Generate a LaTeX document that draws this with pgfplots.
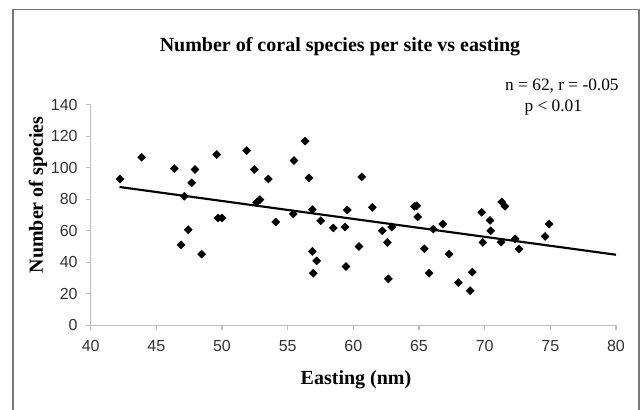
\documentclass[border=0pt]{standalone}
\usepackage{fontspec}
\setmainfont{Liberation Serif}
\setsansfont{Liberation Sans}
\usepackage{pgfplots}
\pgfplotsset{compat=1.18}

\definecolor{axisgray}{RGB}{190,190,190}
\definecolor{framegray}{RGB}{120,120,120}

\begin{document}
\begin{tikzpicture}
\begin{axis}[
scale only axis,
width=394pt, height=165.4pt,
xmin=40, xmax=80,
ymin=0, ymax=140,
xtick={40,45,...,80},
ytick={0,20,...,140},
axis lines*=left,
axis line style={axisgray, line width=0.8pt},
tick align=outside,
major tick length=3.75pt,
tick style={axisgray, line width=0.8pt},
/pgf/number format/assume math mode=true,
ticklabel style={font=\sffamily\fontsize{12}{14}\selectfont, text=black!80},
xticklabel style={yshift=-4pt},
yticklabel style={xshift=-2.5pt},
clip=false,
]

% species count per site against easting
\addplot [only marks, mark=square*, mark size=2.1pt,
  mark options={rotate=45, fill=black, draw=black}]
coordinates{
(42.23,93.0) (43.88,106.8) (46.37,99.6) (47.94,99.0) (47.69,90.5)
(47.13,82.0) (49.60,108.5) (51.88,111.0) (52.46,99.0) (53.53,93.0)
(52.89,79.9) (52.64,78.1) (49.70,68.2) (50.00,68.2) (54.09,65.7)
(47.43,60.8) (46.88,51.2) (48.45,45.3)
(56.32,117.0) (55.48,104.7) (56.62,93.7) (60.64,94.3) (55.43,70.8)
(56.88,73.5) (57.52,66.5) (58.48,61.9) (59.37,62.5) (59.54,73.3)
(61.45,75.0) (62.21,60.1) (62.92,62.5) (62.59,52.7) (60.43,50.1)
(56.88,47.0) (57.21,41.0) (56.95,33.2) (59.44,37.4) (62.67,29.6)
(64.65,75.6) (64.83,76.0) (64.90,68.9) (66.09,61.2) (66.81,64.4)
(65.41,48.7) (65.77,33.2) (67.29,45.3)
(69.06,33.9) (68.00,27.2) (68.89,22.1) (69.78,71.8) (70.41,66.7)
(70.46,60.1) (69.86,52.7) (71.25,52.9) (71.30,78.4) (71.55,75.6)
(72.32,55.0) (72.62,48.5) (74.60,56.5) (74.91,64.4)
};

% linear trend
\addplot [black, line width=1.6pt] coordinates{
(42.2,87.9) (80,44.9)
};

\end{axis}

\node[font=\bfseries\fontsize{15}{18}\selectfont] at (187pt,208.9pt)
  {Number of coral species per site vs easting};
\node[font=\bfseries\fontsize{15}{18}\selectfont, rotate=90] at (-39.5pt,97.9pt)
  {Number of species};
\node[font=\bfseries\fontsize{15}{18}\selectfont] at (199pt,-40.9pt)
  {Easting (nm)};
\node[font=\fontsize{13}{15}\selectfont, anchor=base east, inner sep=0pt] at (396.2pt,176.1pt)
  {n = 62, r = -0.05};
\node[font=\fontsize{13}{15}\selectfont, anchor=base west, inner sep=0pt] at (325.2pt,160.4pt)
  {p < 0.01};

\draw[framegray, line width=1.1pt] (-58.3pt,-80pt) -- (-58.3pt,237pt)
  -- (411.2pt,237pt) -- (411.2pt,-80pt);

\pgfresetboundingbox
\useasboundingbox (-68pt,-63.4pt) rectangle (413.5pt,244.1pt);
\end{tikzpicture}
\end{document}
